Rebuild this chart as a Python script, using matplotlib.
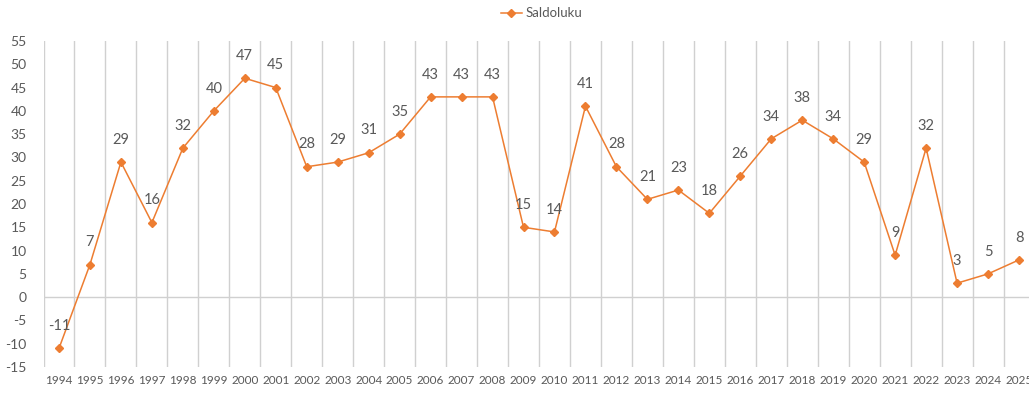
import numpy as np
import matplotlib.pyplot as plt

plt.rcParams['font.family'] = ['Lato', 'DejaVu Sans']

years = list(range(1994, 2026))
saldoluku = [-11, 7, 29, 16, 32, 40, 47, 45, 28, 29, 31, 35, 43, 43, 43, 15, 14,
             41, 28, 21, 23, 18, 26, 34, 38, 34, 29, 9, 32, 3, 5, 8]
yticks = list(range(-15, 60, 5))

orange = '#ED7D31'
grey_text = '#595959'
grid_col = '#D0D0D0'

fig = plt.figure(figsize=(10.29, 3.93), dpi=100)
# plot area runs a little past the right edge of the figure
ax = fig.add_axes([43.5 / 1029, 1 - 367 / 393, 991 / 1029, 326 / 393])

x = np.arange(len(years))
ax.plot(x, saldoluku, color=orange, lw=1.1, marker='D', ms=4,
        label='Saldoluku', zorder=3)

for xi, v in zip(x, saldoluku):
    ax.annotate(str(v), (xi, v), xytext=(0, 11), textcoords='offset points',
                ha='center', va='bottom', fontsize=10.5, color=grey_text)

ax.set_xlim(-0.5, len(years) - 0.5)
ax.set_ylim(-15, 55)
ax.set_yticks(yticks)
ax.set_yticklabels([str(t) for t in yticks], fontsize=10, color=grey_text)
ax.set_xticks(x)
ax.set_xticklabels([str(y) for y in years], fontsize=8.5, color=grey_text)
ax.tick_params(length=0, pad=6)
ax.tick_params(axis='y', pad=12)

# vertical lines between categories, plus the zero line
for b in np.arange(-0.5, len(years), 1.0):
    ax.axvline(b, color=grid_col, lw=1, zorder=1)
ax.axhline(0, color=grid_col, lw=1, zorder=1)

for s in ax.spines.values():
    s.set_visible(False)

ax.legend(loc='upper center', bbox_to_anchor=(498 / 991, 1.12), frameon=False,
          fontsize=9.5, labelcolor=grey_text, handlelength=1.6,
          handletextpad=0.3, borderaxespad=0)

fig.savefig('out.png', dpi=100)
